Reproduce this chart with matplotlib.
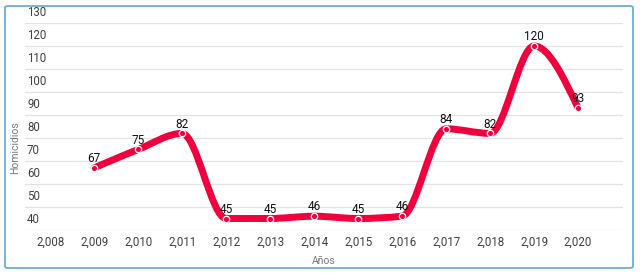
import numpy as np
import matplotlib.pyplot as plt
from matplotlib.path import Path
from matplotlib.patches import PathPatch, FancyBboxPatch
from matplotlib.transforms import offset_copy, blended_transform_factory

plt.rcParams['font.family'] = ['Roboto', 'DejaVu Sans']

years = np.array([2009, 2010, 2011, 2012, 2013, 2014, 2015, 2016, 2017, 2018, 2019, 2020])
homicidios = np.array([67, 75, 82, 45, 45, 46, 45, 46, 84, 82, 120, 93])
xticks = np.arange(2008, 2021)
yticks = np.arange(40, 131, 10)

red = "#f0003c"


def monotone_path(x, y):
    # d3 curveMonotoneX as cubic bezier segments
    x = x.astype(float)
    y = y.astype(float)
    n = len(x)
    h = np.diff(x)
    s = np.diff(y) / h
    t = np.zeros(n)
    for i in range(1, n - 1):
        p = (s[i - 1] * h[i] + s[i] * h[i - 1]) / (h[i - 1] + h[i])
        t[i] = (np.sign(s[i - 1]) + np.sign(s[i])) * min(abs(s[i - 1]), abs(s[i]), 0.5 * abs(p))
    t[0] = (3 * s[0] - t[1]) / 2
    t[-1] = (3 * s[-1] - t[-2]) / 2
    verts = [(x[0], y[0])]
    codes = [Path.MOVETO]
    for i in range(n - 1):
        dx = h[i] / 3
        verts += [(x[i] + dx, y[i] + dx * t[i]), (x[i + 1] - dx, y[i + 1] - dx * t[i + 1]), (x[i + 1], y[i + 1])]
        codes += [Path.CURVE4] * 3
    return Path(verts, codes)


fig = plt.figure(figsize=(6.4, 2.74), dpi=100)
ax = fig.add_axes([25 / 640, 44 / 274, 598 / 640, 207 / 274])

fig.patches.append(FancyBboxPatch((5 / 640, 6 / 274), 628 / 640, 262 / 274,
                                  boxstyle="round,pad=0,rounding_size=0.006",
                                  transform=fig.transFigure, fill=False,
                                  edgecolor="#6aaed3", linewidth=1.3))

ax.set_xlim(2007.43, 2021.02)
ax.set_ylim(40, 130)
for sp in ax.spines.values():
    sp.set_visible(False)

ax.set_yticks(yticks, labels=[])
ax.grid(axis='y', color="#e3e3e3", linewidth=0.9)
ax.set_axisbelow(True)
ax.tick_params(axis='both', length=0)

ytr = offset_copy(blended_transform_factory(ax.transAxes, ax.transData), fig=fig, x=2, y=4, units='dots')
for v in yticks:
    ax.text(0, v, str(v), transform=ytr, ha='left', va='bottom', fontsize=8.3, color="#404040")

ax.set_xticks(xticks, labels=[f"{v:,}" for v in xticks])
ax.tick_params(axis='x', pad=4, labelsize=8.3, labelcolor="#404040")

ax.add_patch(PathPatch(monotone_path(years, homicidios), fill=False, edgecolor=red,
                       linewidth=5, capstyle='round', joinstyle='round', zorder=3))
ax.plot(years, homicidios, linestyle='none', marker='o', markersize=4.6,
        markerfacecolor=red, markeredgecolor='white', markeredgewidth=0.9, zorder=4)

for x, y in zip(years, homicidios):
    ax.annotate(str(y), (x, y), xytext=(0, 2), textcoords='offset points',
                ha='center', va='bottom', fontsize=8.5, color="#111111", zorder=5)

ax.set_xlabel("Años", fontsize=7.5, color="#777777", labelpad=5)
fig.text(15 / 640, 126 / 274, "Homicidios", rotation=90, ha='center', va='center',
         fontsize=7.5, color="#777777")

fig.savefig("out.png", dpi=100)
